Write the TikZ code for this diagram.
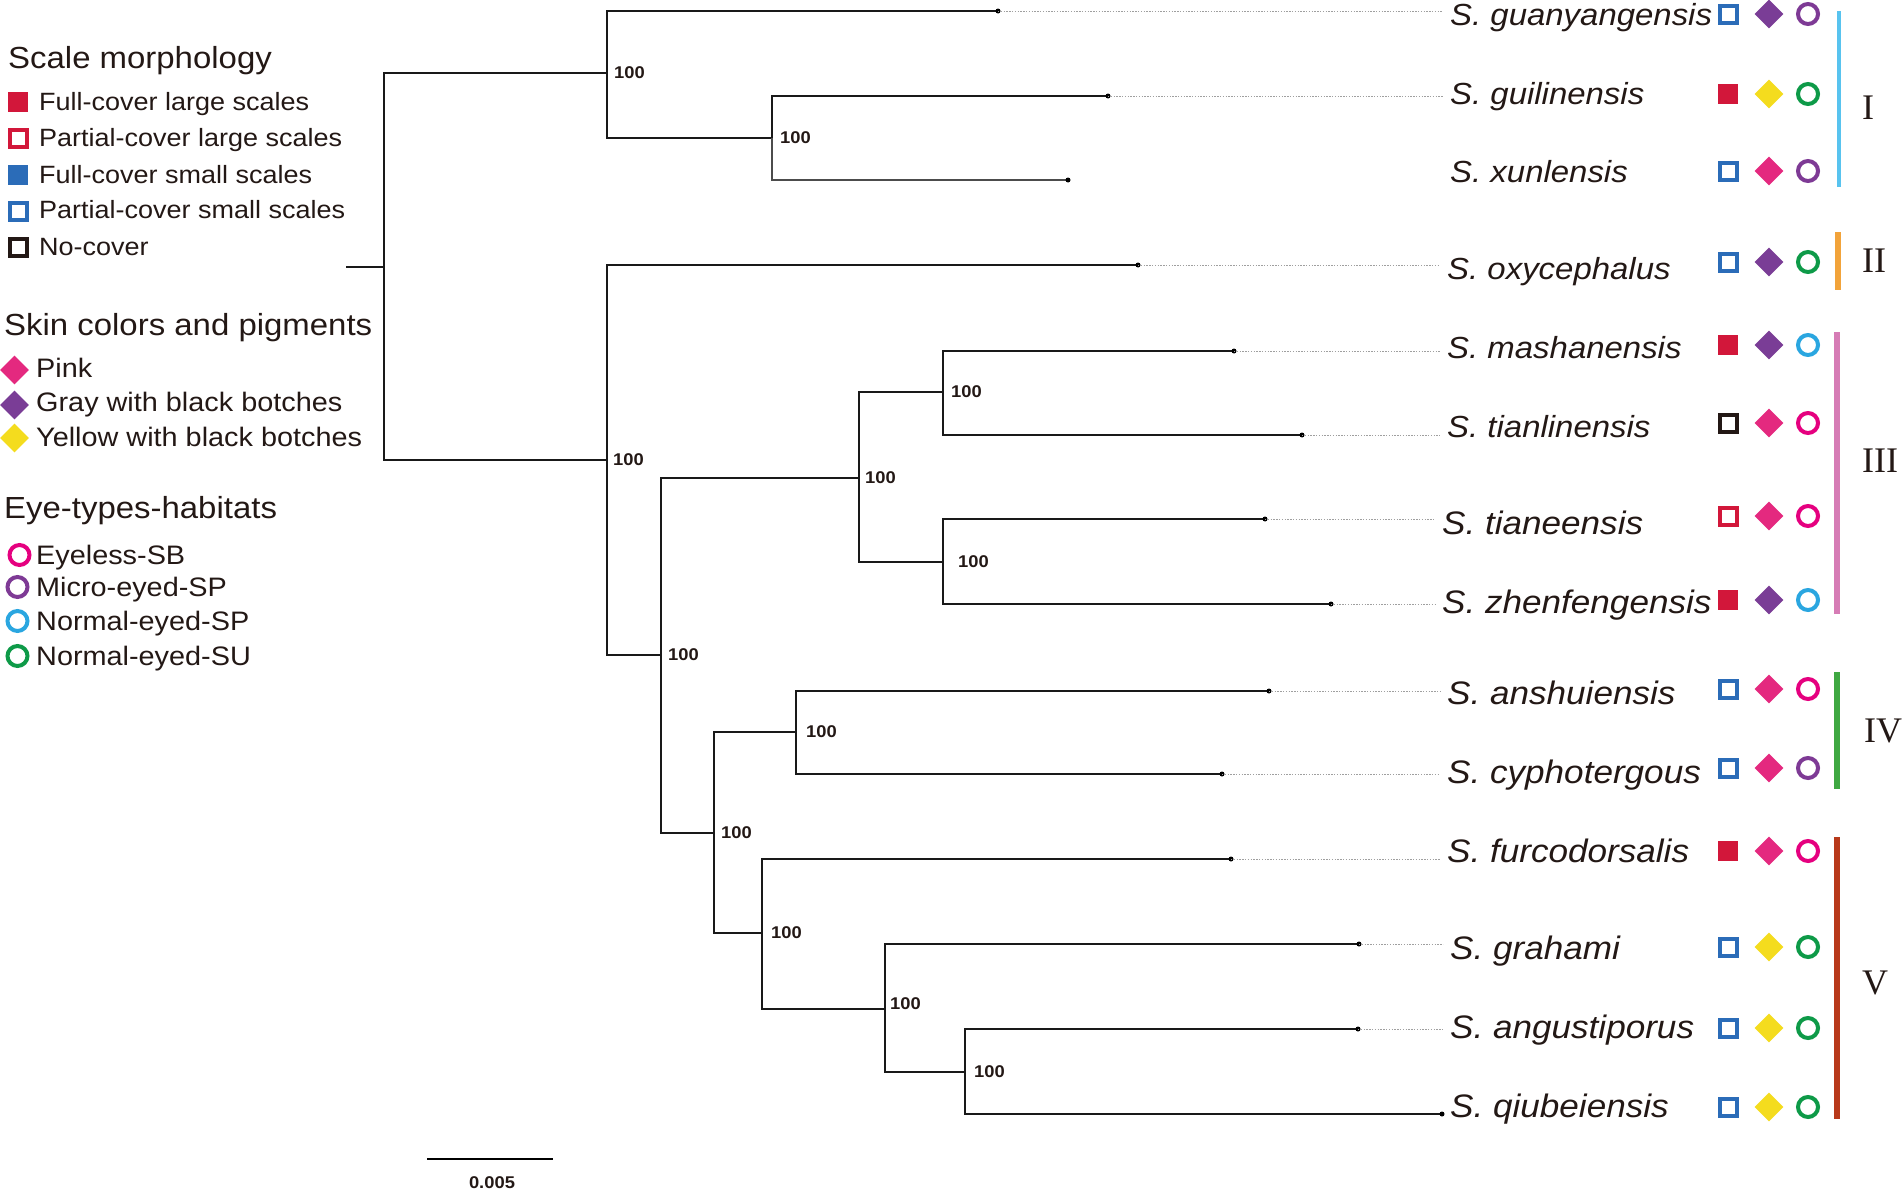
\documentclass[tikz,border=0pt]{standalone}
\usepackage{fontspec}
\setmainfont{Liberation Sans}[FakeStretch=1.08]
\newfontfamily\cladefont{Liberation Serif}
\usetikzlibrary{shapes.geometric}

\definecolor{ink}{HTML}{231815}
\definecolor{scarlet}{HTML}{D2173A}
\definecolor{scaleblue}{HTML}{2B6CB8}
\definecolor{pinkskin}{HTML}{E4297F}
\definecolor{grayskin}{HTML}{7A3D96}
\definecolor{yellowskin}{HTML}{F4DC1E}
\definecolor{eyeless}{HTML}{E5007F}
\definecolor{microeye}{HTML}{7E3A95}
\definecolor{normalsp}{HTML}{2AA6E0}
\definecolor{normalsu}{HTML}{0E9A48}
\definecolor{cladeI}{HTML}{58C3EF}
\definecolor{cladeII}{HTML}{F2A33A}
\definecolor{cladeIII}{HTML}{D67CB5}
\definecolor{cladeIV}{HTML}{3FA842}
\definecolor{cladeV}{HTML}{B8391A}

\tikzset{
  branch/.style={line width=2.6pt, draw=black!90},
  leader/.style={draw=gray!75, line width=0.8pt, dash pattern=on 1.4pt off 1.4pt, shorten >=7pt},
  boot/.style={anchor=west, inner sep=0pt, text=ink, font=\fontsize{17}{17}\selectfont\bfseries},
  taxon/.style={anchor=base west, inner sep=0pt, yshift=-11pt, text=ink, font=\fontsize{30.5}{30.5}\selectfont\itshape},
  bigtaxon/.style={taxon, font=\fontsize{32.5}{32.5}\selectfont\itshape},
  legendhead/.style={anchor=base west, inner sep=0pt, yshift=-11pt, text=ink, font=\fontsize{30.5}{30.5}\selectfont},
  legenditem/.style={anchor=base west, inner sep=0pt, yshift=-9pt, text=ink, font=\fontsize{25}{25}\selectfont},
  biglegenditem/.style={legenditem, yshift=-0.5pt, font=\fontsize{26.7}{26.7}\selectfont},
  fullsq/.style={rectangle, fill=#1, minimum size=20pt, inner sep=0pt},
  partsq/.style={rectangle, draw=#1, line width=4pt, minimum size=17pt, inner sep=0pt},
  skin/.style={diamond, fill=#1, minimum width=29pt, minimum height=29pt, inner sep=0pt},
  eye/.style={circle, draw=#1, line width=4pt, minimum size=20pt, inner sep=0pt},
  cladebar/.style={draw=#1, line width=6pt},
  roman/.style={anchor=base west, inner sep=0pt, yshift=-12pt, text=ink, font=\fontsize{36}{36}\selectfont\cladefont},
}

\newcommand{\drawbranch}[2]
{
  \draw[branch] (#1) |- (#2);
}
\newcommand{\drawtip}[1]
{
  \fill[black] (#1) circle (2.5pt);
}
\newcommand{\drawtraits}[5]
{
  \node[#3] (#1sq) at (1728,#2) {};
  \node[skin=#4] (#1sk) at (1769,#2) {};
  \node[eye=#5] (#1ey) at (1808,#2) {};
}

\begin{document}
\begin{tikzpicture}[x=1pt,y=-1pt]
    \useasboundingbox (0,0) rectangle (1903,1191);

    % internal nodes of the tree
    \coordinate (stub) at (346,267);
    \coordinate (root) at (384,267);
    \coordinate (nA) at (607,73);
    \coordinate (nB) at (772,138);
    \coordinate (nC) at (607,460);
    \coordinate (nD) at (661,655);
    \coordinate (nE) at (859,478);
    \coordinate (nF) at (943,392);
    \coordinate (nG) at (943,562);
    \coordinate (nH) at (714,833);
    \coordinate (nI) at (796,732);
    \coordinate (nJ) at (762,933);
    \coordinate (nK) at (885,1009);
    \coordinate (nL) at (965,1072);

    % tips
    \coordinate (guan) at (998,11);
    \coordinate (guil) at (1108,96);
    \coordinate (xunl) at (1068,180);
    \coordinate (oxyc) at (1138,265);
    \coordinate (mash) at (1234,351);
    \coordinate (tianl) at (1302,435);
    \coordinate (tiane) at (1265,519);
    \coordinate (zhen) at (1331,604);
    \coordinate (anshu) at (1269,691);
    \coordinate (cypho) at (1222,774);
    \coordinate (furco) at (1231,859);
    \coordinate (graha) at (1359,944);
    \coordinate (angus) at (1358,1029);
    \coordinate (qiube) at (1442,1114);

    \draw[branch] (stub) -- (root);
    \drawbranch{root}{nA}
    \drawbranch{root}{nC}
    \drawbranch{nA}{guan}
    \drawbranch{nA}{nB}
    \drawbranch{nB}{guil}
    \draw[branch, draw=black!70] (nB) |- (xunl);
    \drawbranch{nC}{oxyc}
    \drawbranch{nC}{nD}
    \drawbranch{nD}{nE}
    \drawbranch{nD}{nH}
    \drawbranch{nE}{nF}
    \drawbranch{nE}{nG}
    \drawbranch{nF}{mash}
    \drawbranch{nF}{tianl}
    \drawbranch{nG}{tiane}
    \drawbranch{nG}{zhen}
    \drawbranch{nH}{nI}
    \drawbranch{nH}{nJ}
    \drawbranch{nI}{anshu}
    \drawbranch{nI}{cypho}
    \drawbranch{nJ}{furco}
    \drawbranch{nJ}{nK}
    \drawbranch{nK}{graha}
    \drawbranch{nK}{nL}
    \drawbranch{nL}{angus}
    \drawbranch{nL}{qiube}

    \foreach \t in {guan,guil,xunl,oxyc,mash,tianl,tiane,zhen,anshu,cypho,furco,graha,angus,qiube}
      {\drawtip{\t}}

    % bootstrap values
    \node[boot] (bsA) at ([xshift=7pt]nA) {100};
    \node[boot] (bsB) at ([xshift=8pt]nB) {100};
    \node[boot] (bsC) at ([xshift=6pt]nC) {100};
    \node[boot] (bsD) at ([xshift=7pt]nD) {100};
    \node[boot] (bsE) at ([xshift=6pt]nE) {100};
    \node[boot] (bsF) at ([xshift=8pt]nF) {100};
    \node[boot] (bsG) at ([xshift=15pt]nG) {100};
    \node[boot] (bsH) at ([xshift=7pt]nH) {100};
    \node[boot] (bsI) at ([xshift=10pt]nI) {100};
    \node[boot] (bsJ) at ([xshift=9pt]nJ) {100};
    \node[boot] (bsK) at ([xshift=5pt,yshift=5pt]nK) {100};
    \node[boot] (bsL) at ([xshift=9pt]nL) {100};

    % species names
    \node[taxon] (nmguan) at (1450,14) {S. guanyangensis};
    \node[taxon] (nmguil) at (1450,93) {S. guilinensis};
    \node[taxon] (nmxunl) at (1450,171) {S. xunlensis};
    \node[taxon] (nmoxyc) at (1447,268) {S. oxycephalus};
    \node[taxon] (nmmash) at (1447,347) {S. mashanensis};
    \node[taxon] (nmtianl) at (1447,426) {S. tianlinensis};
    \node[bigtaxon] (nmtiane) at (1442,523) {S. tianeensis};
    \node[bigtaxon] (nmzhen) at (1442,602) {S. zhenfengensis};
    \node[bigtaxon] (nmanshu) at (1447,693) {S. anshuiensis};
    \node[bigtaxon] (nmcypho) at (1447,772) {S. cyphotergous};
    \node[bigtaxon] (nmfurco) at (1447,851) {S. furcodorsalis};
    \node[bigtaxon] (nmgraha) at (1450,948) {S. grahami};
    \node[bigtaxon] (nmangus) at (1450,1027) {S. angustiporus};
    \node[bigtaxon] (nmqiube) at (1450,1106) {S. qiubeiensis};

    \foreach \t in {guan,guil,oxyc,mash,tianl,tiane,zhen,anshu,cypho,furco,graha,angus}
      {\draw[leader] (\t) -- (\t -| nm\t.west);}

    % traits
    \drawtraits{guan}{14}{partsq=scaleblue}{grayskin}{microeye}
    \drawtraits{guil}{94}{fullsq=scarlet}{yellowskin}{normalsu}
    \drawtraits{xunl}{171}{partsq=scaleblue}{pinkskin}{microeye}
    \drawtraits{oxyc}{262}{partsq=scaleblue}{grayskin}{normalsu}
    \drawtraits{mash}{345}{fullsq=scarlet}{grayskin}{normalsp}
    \drawtraits{tianl}{423}{partsq=ink}{pinkskin}{eyeless}
    \drawtraits{tiane}{516}{partsq=scarlet}{pinkskin}{eyeless}
    \drawtraits{zhen}{600}{fullsq=scarlet}{grayskin}{normalsp}
    \drawtraits{anshu}{689}{partsq=scaleblue}{pinkskin}{eyeless}
    \drawtraits{cypho}{768}{partsq=scaleblue}{pinkskin}{microeye}
    \drawtraits{furco}{851}{fullsq=scarlet}{pinkskin}{eyeless}
    \drawtraits{graha}{947}{partsq=scaleblue}{yellowskin}{normalsu}
    \drawtraits{angus}{1028}{partsq=scaleblue}{yellowskin}{normalsu}
    \drawtraits{qiube}{1107}{partsq=scaleblue}{yellowskin}{normalsu}

    % clade bars
    \draw[cladebar=cladeI, line width=4pt] (1839,11) -- (1839,187);
    \draw[cladebar=cladeII] (1838,232) -- (1838,290);
    \draw[cladebar=cladeIII] (1837,332) -- (1837,614);
    \draw[cladebar=cladeIV] (1837,672) -- (1837,789);
    \draw[cladebar=cladeV] (1837,837) -- (1837,1119);
    \node[roman] (clI) at (1862,107) {I};
    \node[roman] (clII) at (1862,260) {II};
    \node[roman] (clIII) at (1862,460) {III};
    \node[roman] (clIV) at (1864,730) {IV};
    \node[roman] (clV) at (1862,982) {V};

    % legend
    \node[legendhead] (hdscale) at (8,57) {Scale morphology};
    \node[fullsq=scarlet] (lgfl) at (18,102) {};
    \node[legenditem] (txfl) at (39,101) {Full-cover large scales};
    \node[partsq=scarlet] (lgpl) at (18,138) {};
    \node[legenditem] (txpl) at (39,137) {Partial-cover large scales};
    \node[fullsq=scaleblue] (lgfs) at (18,175) {};
    \node[legenditem] (txfs) at (39,174) {Full-cover small scales};
    \node[partsq=scaleblue] (lgps) at (18,211) {};
    \node[legenditem] (txps) at (39,209) {Partial-cover small scales};
    \node[partsq=ink] (lgnc) at (18,247) {};
    \node[legenditem] (txnc) at (39,246) {No-cover};

    \node[legendhead] (hdskin) at (4,324) {Skin colors and pigments};
    \node[skin=pinkskin] (lgpk) at (14.5,370) {};
    \node[biglegenditem] (txpk) at (36,368) {Pink};
    \node[skin=grayskin] (lggr) at (14.5,405) {};
    \node[biglegenditem] (txgr) at (36,402) {Gray with black botches};
    \node[skin=yellowskin] (lgye) at (14.5,438) {};
    \node[biglegenditem] (txye) at (36,437) {Yellow with black botches};

    \node[legendhead] (hdeye) at (4,507) {Eye-types-habitats};
    \node[eye=eyeless] (lgsb) at (19.5,555) {};
    \node[biglegenditem] (txsb) at (36,555) {Eyeless-SB};
    \node[eye=microeye] (lgmi) at (17.5,587) {};
    \node[biglegenditem] (txmi) at (36,587) {Micro-eyed-SP};
    \node[eye=normalsp] (lgsp) at (17.5,621) {};
    \node[biglegenditem] (txsp) at (36,621) {Normal-eyed-SP};
    \node[eye=normalsu] (lgsu) at (17.5,656) {};
    \node[biglegenditem] (txsu) at (36,656) {Normal-eyed-SU};

    % scale bar
    \coordinate (sbL) at (427,1159);
    \coordinate (sbR) at (553,1159);
    \draw[line width=1.6pt] (sbL) -- (sbR);
    \node[boot, anchor=center] (sbtxt) at (492,1183) {0.005};
\end{tikzpicture}
\end{document}
